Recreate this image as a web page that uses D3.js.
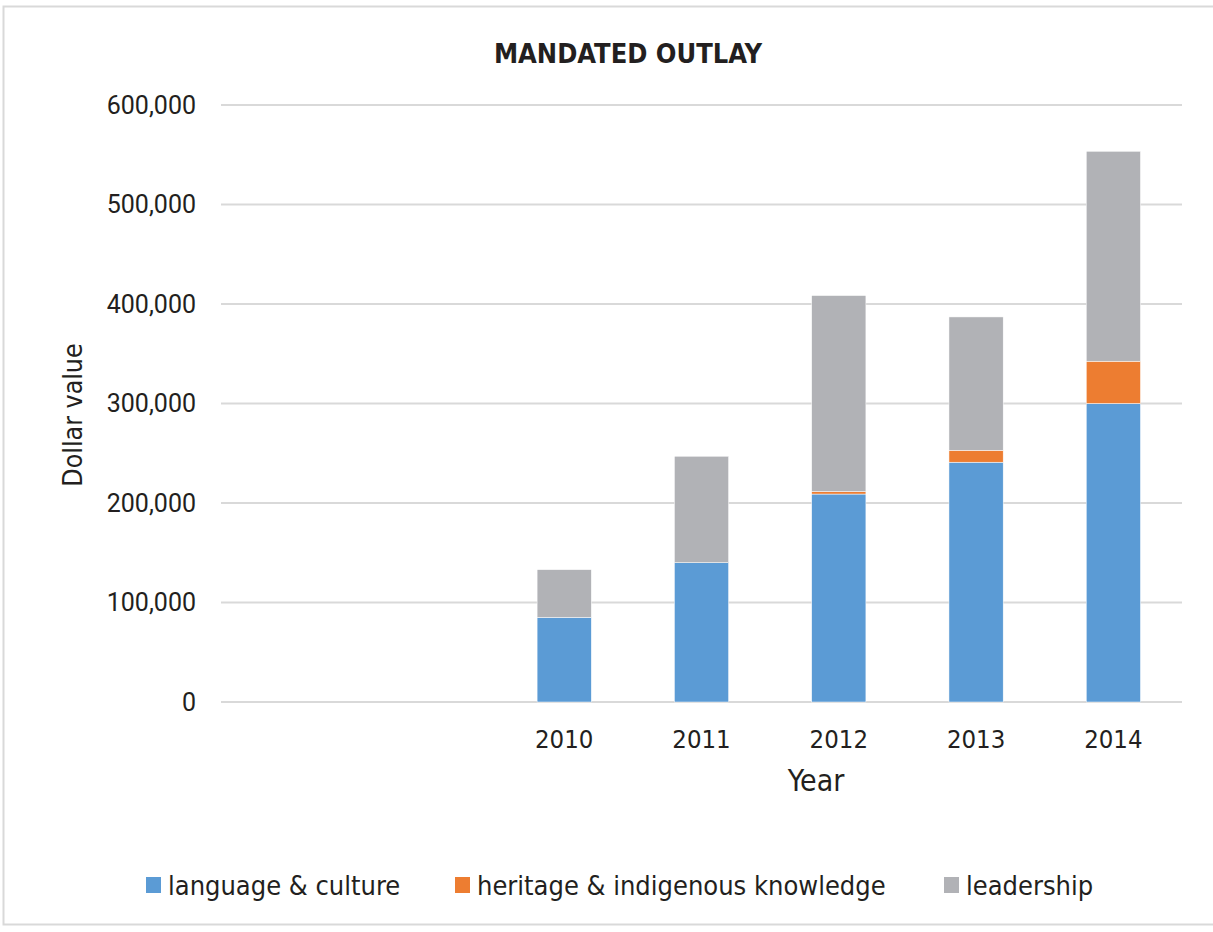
<!DOCTYPE html>
<html>
<head>
<meta charset="utf-8">
<script src="https://cdn.jsdelivr.net/npm/d3@7"></script>
<style>
  body { margin: 0; background: #fff; }
  text { fill: #231f20; }
  .cond { font-family: "Liberation Sans Narrow", "DejaVu Sans Condensed", sans-serif; }
</style>
</head>
<body>
<script>
// chart data
const years = ['', ' ', '2010', '2011', '2012', '2013', '2014'];
const language = [0, 0, 85000, 140000, 209000, 241000, 300000];
const heritage = [0, 0, 0, 0, 2500, 12000, 42500];
const leadership = [0, 0, 48000, 107000, 197000, 134000, 211000];
const yTicks = [0, 100000, 200000, 300000, 400000, 500000, 600000];
const seriesNames = ['language & culture', 'heritage & indigenous knowledge', 'leadership'];
const colors = ['#5b9bd5', '#ed7d31', '#b1b2b6'];

const width = 1213;
const height = 932;
const margin = { top: 105, right: 31, bottom: 230, left: 221 };
const innerW = width - margin.left - margin.right;
const innerH = height - margin.top - margin.bottom;

const svg = d3.select('body').append('svg')
    .attr('width', width)
    .attr('height', height);

// outer frame
svg.append('rect')
    .attr('x', 3.5).attr('y', 6.5)
    .attr('width', width + 10).attr('height', 918)
    .attr('fill', 'none')
    .attr('stroke', '#d9d9d9')
    .attr('stroke-width', 2);

const g = svg.append('g')
    .attr('transform', `translate(${margin.left},${margin.top})`);

const x = d3.scaleBand()
    .domain(years)
    .range([0, innerW])
    .paddingInner(0.605)
    .paddingOuter(0.3025);

const y = d3.scaleLinear()
    .domain([0, 600000])
    .range([innerH, 0]);

// gridlines
g.selectAll('.grid')
    .data(yTicks)
    .enter()
    .append('line')
    .attr('x1', 0).attr('x2', innerW)
    .attr('y1', d => y(d)).attr('y2', d => y(d))
    .attr('stroke', '#d9d9d9')
    .attr('stroke-width', 2);

// y axis labels
const yAxis = d3.axisLeft(y)
    .tickValues(yTicks)
    .tickFormat(d3.format(','))
    .tickSize(0)
    .tickPadding(25);
g.append('g')
    .call(yAxis)
    .call(a => a.select('.domain').remove())
    .selectAll('text')
    .attr('font-family', 'Roboto, sans-serif')
    .attr('font-size', 25)
    .attr('fill', '#231f20');

// x axis labels
const xAxis = d3.axisBottom(x).tickSize(0).tickPadding(28);
g.append('g')
    .attr('transform', `translate(0,${innerH})`)
    .call(xAxis)
    .call(a => a.select('.domain').remove())
    .selectAll('text')
    .attr('class', 'cond')
    .attr('font-size', 25.5)
    .attr('fill', '#231f20');

// stacked bars
const rows = years.map((yr, i) => ({ year: yr, s0: language[i], s1: heritage[i], s2: leadership[i] }));
const stack = d3.stack().keys(['s0', 's1', 's2']);
const layers = stack(rows);

g.selectAll('.layer')
    .data(layers)
    .enter()
    .append('g')
    .attr('fill', (d, i) => colors[i])
    .selectAll('rect')
    .data(d => d.filter(p => p[1] > p[0]))
    .enter()
    .append('rect')
    .attr('x', d => x(d.data.year))
    .attr('y', d => y(d[1]))
    .attr('width', x.bandwidth())
    .attr('height', d => y(d[0]) - y(d[1]))
    .attr('stroke', '#fff')
    .attr('stroke-width', 0.5);

// title
svg.append('text')
    .attr('class', 'cond')
    .attr('x', 628).attr('y', 63)
    .attr('text-anchor', 'middle')
    .attr('font-size', 27)
    .attr('font-weight', 'bold')
    .text('MANDATED OUTLAY');

// axis titles
svg.append('text')
    .attr('class', 'cond')
    .attr('text-anchor', 'middle')
    .attr('transform', 'translate(82,415) rotate(-90)')
    .attr('font-size', 26.5)
    .text('Dollar value');

svg.append('text')
    .attr('class', 'cond')
    .attr('x', 816).attr('y', 791)
    .attr('text-anchor', 'middle')
    .attr('font-size', 30)
    .text('Year');

// legend
const legendX = [146, 455, 944];
const legend = svg.append('g');
const items = legend.selectAll('.legend-item')
    .data(seriesNames)
    .enter()
    .append('g')
    .attr('transform', (d, i) => `translate(${legendX[i]},0)`);

items.append('rect')
    .attr('x', 0).attr('y', 877)
    .attr('width', 15).attr('height', 16)
    .attr('fill', (d, i) => colors[i]);

items.append('text')
    .attr('class', 'cond')
    .attr('x', 22).attr('y', 895)
    .attr('font-size', 27)
    .text(d => d);
</script>
</body>
</html>
